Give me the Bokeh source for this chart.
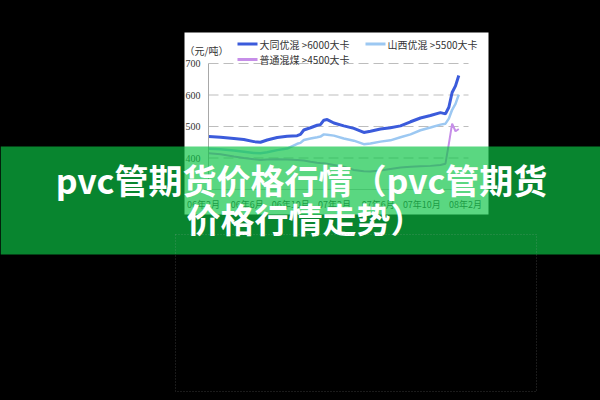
from bokeh.plotting import figure
from bokeh.models import BoxAnnotation, Label, FixedTicker, Range1d, LinearAxis
from bokeh.embed import file_html
from bokeh.resources import INLINE

# ---- data (months counted from Feb 2006) ----
months = [0.49, 1.56, 2.78, 3.69, 4.61, 5.22, 5.83, 6.75, 7.66, 8.58, 8.88, 9.19,
          9.80, 10.41, 10.71, 11.02, 11.33, 11.94, 12.85, 13.77, 14.68, 15.29,
          16.21, 17.12, 18.04, 18.96, 19.87, 20.79, 21.70, 22.16, 22.47, 22.77,
          23.08, 23.38]
datong = [468, 466, 462, 459, 452, 450, 457, 465, 469, 471, 475, 489, 496, 504,
          506, 520, 522, 511, 502, 494, 481, 485, 492, 496, 502, 515, 527, 535,
          544, 540, 561, 608, 629, 662]
shanxi = [429, 428, 424, 420, 416, 415, 418, 425, 430, 445, 448, 457, 462, 466,
          468, 475, 474, 471, 462, 455, 444, 446, 452, 456, 466, 475, 488, 497,
          506, 509, 525, 553, 572, 601]
putong = [415, 412, 405, 400, 396, 394, 395, 396, 395, 394, 393, 392, 388, 385,
          384, 383, 382, 378, 372, 362, 358, 357, 360, 365, 370, 372, 374, 375,
          378, 382, 445, 509, 485, 492]
series_names = ["大同优混 >6000大卡", "山西优混 >5500大卡", "普通混煤 >4500大卡"]
series_colors = ["#3B5BDB", "#9CC8F2", "#C68EE8"]
x_ticks = [0, 4, 8, 12, 16, 20, 24]
x_tick_labels = ["06年2月", "06年6月", "06年10月", "07年2月", "07年6月", "07年10月", "08年2月"]
y_ticks = [400, 500, 600, 700]
unit_label = "（元/吨）"
title_lines = ["pvc管期货价格行情（pvc管期货", "价格行情走势）"]

# ---- layout (canvas pixels) ----
W, H = 600, 400
FL, FR, FT, FB = 208, 468, 63, 189      # chart plot area on the canvas
XS, XE = 0.458, 24.27                    # month extent of the plot area
YS, YE = 300, 700                        # value extent of the plot area

kx = (FR - FL) / (XE - XS)
ky = (FB - FT) / (YE - YS)
x_range = Range1d(XS - FL / kx, XS + (W - FL) / kx)
y_range = Range1d(YS - (H - FB) / ky, YE + FT / ky)

p = figure(width=W, height=H, output_backend="svg", toolbar_location=None,
           x_range=x_range, y_range=y_range,
           x_axis_location=None, y_axis_location=None,
           min_border=0, min_border_left=0, min_border_right=0,
           min_border_top=0, min_border_bottom=0)
p.border_fill_color = "black"
p.background_fill_color = "black"
p.outline_line_color = None
p.grid.visible = False


def sx(X):
    return X


def sy(Y):
    return H - Y


def box(l, r, t, b, **kw):
    return BoxAnnotation(left=sx(l), right=sx(r), top=sy(t), bottom=sy(b),
                         left_units="screen", right_units="screen",
                         top_units="screen", bottom_units="screen", **kw)


# white chart card
p.add_layout(box(184, 488, 32, 214, fill_color="white", fill_alpha=1.0,
                 line_color=None, level="image"))

# dashed horizontal grid lines at the y ticks
p.segment(x0=[XS] * len(y_ticks), x1=[XE] * len(y_ticks), y0=y_ticks, y1=y_ticks,
          line_color="#bdbdbd", line_dash="10 5", line_width=1)

# axes drawn inside the frame at fixed data locations
yaxis = LinearAxis(fixed_location=XS, bounds=(YS, YE), ticker=FixedTicker(ticks=y_ticks))
yaxis.major_tick_line_color = None
yaxis.minor_tick_line_color = None
yaxis.major_tick_out = 0
yaxis.major_tick_in = 0
yaxis.axis_line_color = "#a8a8a8"
yaxis.major_label_text_font = "Liberation Serif"
yaxis.major_label_text_font_size = "10px"
yaxis.major_label_text_color = "#333333"
yaxis.major_label_standoff = 8
p.add_layout(yaxis, "left")

xaxis = LinearAxis(fixed_location=YS, bounds=(0, XE), ticker=FixedTicker(ticks=x_ticks))
xaxis.major_label_overrides = {t: l for t, l in zip(x_ticks, x_tick_labels)}
xaxis.major_tick_line_color = None
xaxis.minor_tick_line_color = None
xaxis.major_tick_out = 0
xaxis.major_tick_in = 0
xaxis.axis_line_color = "#c8c8c8"
xaxis.major_label_text_font = "Noto Sans CJK SC"
xaxis.major_label_text_font_size = "9px"
xaxis.major_label_text_color = "#444444"
xaxis.major_label_standoff = 8
p.add_layout(xaxis, "below")

# lines
p.line(months, shanxi, line_color=series_colors[1], line_width=2.5)
p.line(months, putong, line_color=series_colors[2], line_width=2)
p.line(months, datong, line_color=series_colors[0], line_width=3)

# legend (manual)
legend_pos = [(237, 43.5), (365, 43.5), (237, 59)]
for (lx, ly), name, col in zip(legend_pos, series_names, series_colors):
    p.add_layout(box(lx, lx + 20, ly - 1.5, ly + 1.5, fill_color=col, fill_alpha=1.0,
                     line_color=None))
    p.add_layout(Label(x=sx(lx + 22), y=sy(ly), x_units="screen", y_units="screen",
                       text=name, text_font="Noto Sans CJK SC", text_font_size="10px",
                       text_color="#333333", text_baseline="middle", text_align="left"))

p.add_layout(Label(x=sx(184), y=sy(50), x_units="screen", y_units="screen",
                   text=unit_label, text_font="Noto Sans CJK SC", text_font_size="10px",
                   text_color="#333333", text_baseline="middle", text_align="left"))

# green banner
p.add_layout(box(0, 600, 146, 254, fill_color="#0CC445", fill_alpha=0.68,
                 line_color=None, level="overlay"))
for (tx, ty), t in zip([(301, 179), (305, 218)], title_lines):
    p.add_layout(Label(x=sx(tx), y=sy(ty), x_units="screen", y_units="screen",
                       text=t, text_font="Noto Sans CJK SC", text_font_size="34px",
                       text_font_style="bold", text_color="white",
                       text_baseline="middle", text_align="center", level="overlay"))

# dotted frame
p.add_layout(box(175, 536, 234, 391, fill_alpha=0.0, line_color="#b0b0b0",
                 line_dash="1 2", line_width=1, level="overlay"))

html = file_html(p, INLINE, title="pvc")
html = html.replace("<head>", "<head><style>html,body{margin:0;padding:0;background:#000;overflow:hidden}</style>", 1)
open("out.html", "w").write(html)
